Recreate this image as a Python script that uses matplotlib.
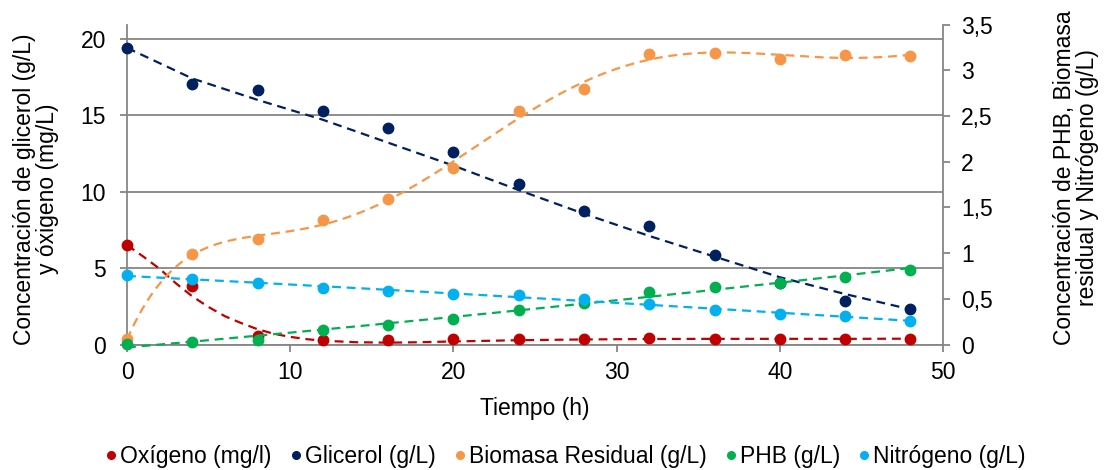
import numpy as np
import matplotlib
matplotlib.use("Agg")
import matplotlib.pyplot as plt
from matplotlib.ticker import FuncFormatter, MultipleLocator
from matplotlib.lines import Line2D

plt.rcParams["font.family"] = ["Liberation Sans", "DejaVu Sans"]

# Sampling times (h)
tiempo = [0, 4, 8, 12, 16, 20, 24, 28, 32, 36, 40, 44, 48]

# Primary axis series
oxigeno = [6.50, 3.82, 0.54, 0.28, 0.28, 0.39, 0.39, 0.33, 0.41, 0.39, 0.39, 0.33, 0.39]
glicerol = [19.42, 17.02, 16.62, 15.27, 14.14, 12.61, 10.47, 8.72, 7.74, 5.84, 4.05, 2.83, 2.29]

# Secondary axis series
biomasa = [0.055, 0.99, 1.15, 1.36, 1.59, 1.93, 2.55, 2.80, 3.18, 3.19, 3.12, 3.17, 3.16]
phb = [0.01, 0.03, 0.05, 0.16, 0.21, 0.28, 0.38, 0.45, 0.57, 0.63, 0.67, 0.74, 0.82]
nitrogeno = [0.755, 0.72, 0.675, 0.62, 0.58, 0.555, 0.536, 0.50, 0.44, 0.38, 0.33, 0.31, 0.26]

# Modelled dissolved-oxygen profile (mg/L)
t_modelo_o2 = [0, 1, 2, 3, 4, 5, 6, 7, 8, 9, 10, 11, 12, 14, 16, 18, 20, 24, 28, 32, 36, 40, 44, 48]
modelo_o2 = [6.5, 5.75, 4.95, 4.0, 3.15, 2.45, 1.85, 1.4, 1.0, 0.7, 0.5, 0.35, 0.25, 0.15,
             0.12, 0.15, 0.2, 0.28, 0.33, 0.36, 0.37, 0.37, 0.37, 0.38]

# Modelled glycerol profile (g/L)
t_modelo_gli = [0, 4, 8, 12, 16, 20, 24, 28, 32, 36, 40, 44, 48]
modelo_gli = [19.4, 17.4, 16.0, 14.7, 13.2, 11.7, 10.1, 8.55, 7.1, 5.75, 4.4, 3.3, 2.3]

labels = ["Oxígeno (mg/l)", "Glicerol (g/L)", "Biomasa Residual (g/L)", "PHB (g/L)", "Nitrógeno (g/L)"]
colors = ["#C00000", "#002060", "#F79646", "#00B050", "#00B0F0"]
# polynomial order of each fitted trend line
trend_orders = {"biomasa": 6, "phb": 2, "nitrogeno": 2}

W, H = 1108, 470
fig = plt.figure(figsize=(W / 100, H / 100), dpi=100)
ax = fig.add_axes([127 / W, 1 - 344.5 / H, (943 - 127) / W, (344.5 - 24.5) / H])
ax2 = ax.twinx()

grid_c = "#868686"
fs = 16.5
dash = (0, (4, 2.6))

t = np.array(tiempo, dtype=float)
tt = np.linspace(0, 48, 400)


def points(axis, values, color):
    axis.plot(t, values, "o", color=color, ms=7.5, zorder=4, clip_on=False)


def trend(axis, values, color, order):
    coef = np.polyfit(t, values, order)
    axis.plot(tt, np.polyval(coef, tt), linestyle=dash, lw=1.6,
              color=color, zorder=3, clip_on=False)


points(ax, oxigeno, colors[0])
ax.plot(t_modelo_o2, modelo_o2, linestyle=dash, lw=1.6, color=colors[0], zorder=3)
points(ax, glicerol, colors[1])
ax.plot(t_modelo_gli, modelo_gli, linestyle=dash, lw=1.6, color=colors[1], zorder=3)
points(ax2, biomasa, colors[2])
trend(ax2, biomasa, colors[2], trend_orders["biomasa"])
points(ax2, phb, colors[3])
trend(ax2, phb, colors[3], trend_orders["phb"])
points(ax2, nitrogeno, colors[4])
trend(ax2, nitrogeno, colors[4], trend_orders["nitrogeno"])

ax.set_xlim(0, 50)
ax.set_ylim(0, 20.93)
ax2.set_ylim(0, 3.5)
ax.xaxis.set_major_locator(MultipleLocator(10))
ax.yaxis.set_major_locator(MultipleLocator(5))
ax2.yaxis.set_major_locator(MultipleLocator(0.5))

ax.yaxis.grid(True, color=grid_c, lw=1.3)
ax.set_axisbelow(True)

for a in (ax, ax2):
    a.spines["top"].set_visible(False)
    for s in ("left", "right", "bottom"):
        a.spines[s].set_color(grid_c)
        a.spines[s].set_linewidth(1.3)
ax.spines["right"].set_visible(False)
ax2.spines["left"].set_visible(False)
ax2.spines["bottom"].set_visible(False)

ax.tick_params(axis="both", colors=grid_c, labelcolor="black", labelsize=fs,
               length=5, width=1.3, direction="out")
ax.tick_params(axis="y", pad=10)
ax.tick_params(axis="x", pad=7)
ax2.tick_params(axis="y", colors=grid_c, labelcolor="black", labelsize=fs,
                length=5, width=1.3, direction="out", pad=8)
ax2.yaxis.set_major_formatter(FuncFormatter(lambda v, p: f"{v:g}".replace(".", ",")))

fig.text(0.5 * (127 + 943) / W, 1 - 408 / H, "Tiempo (h)", ha="center", va="center", fontsize=fs)
fig.text(36 / W, 1 - 189 / H, "Concentración de glicerol (g/L)\ny óxigeno (mg/L)",
         rotation=90, ha="center", va="center", fontsize=fs, multialignment="center",
         linespacing=1.05)
fig.text(1076 / W, 1 - 178 / H, "Concentración de PHB, Biomasa\nresidual y Nitrógeno (g/L)",
         rotation=90, ha="center", va="center", fontsize=fs, multialignment="center",
         linespacing=1.05)

handles = [Line2D([], [], marker="o", ls="none", color=c, ms=5.5) for c in colors]
fig.legend(handles, labels, loc="center", bbox_to_anchor=(565 / W, 1 - 457 / H), ncol=5,
           frameon=False, fontsize=fs, handletextpad=0.1, columnspacing=0.75,
           handlelength=0.6)

fig.savefig("out.png", dpi=100)
